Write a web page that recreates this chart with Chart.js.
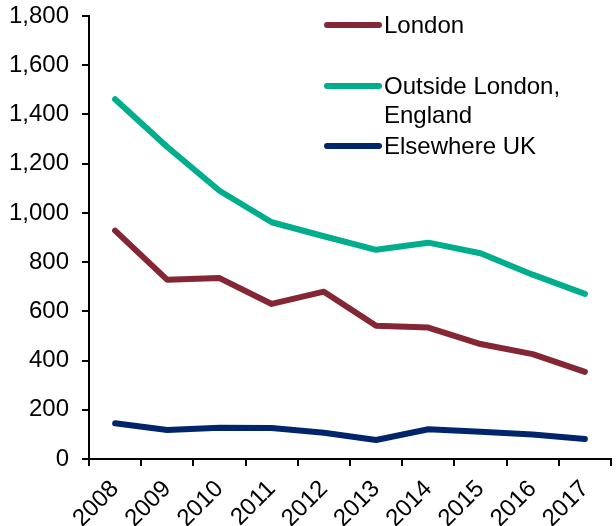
<!DOCTYPE html>
<html>
<head>
<meta charset="utf-8">
<script src="https://cdn.jsdelivr.net/npm/chart.js@4"></script>
<style>
  html, body { margin: 0; padding: 0; background: #fff; }
  #wrap { width: 616px; height: 526px; }
</style>
</head>
<body>
<div id="wrap"><canvas id="c" width="616" height="526"></canvas></div>
<script>
const years = ['2008','2009','2010','2011','2012','2013','2014','2015','2016','2017'];
const london = [928, 728, 735, 630, 680, 541, 534, 467, 426, 354];
const outsideLondon = [1462, 1268, 1090, 962, 905, 850, 879, 836, 749, 671];
const elsewhereUK = [145, 118, 127, 126, 107, 77, 121, 111, 100, 81];
const yTicks = [0, 200, 400, 600, 800, 1000, 1200, 1400, 1600, 1800];

const FONT = 'Liberation Sans, Arial, sans-serif';

// Legend drawn beside the lines, with a wrapped second label
const sideLegend = {
  id: 'sideLegend',
  afterDraw(chart) {
    const ctx = chart.ctx;
    const rows = [
      { ds: 0, y: 25, lines: ['London'] },
      { ds: 1, y: 86, lines: ['Outside London,', 'England'] },
      { ds: 2, y: 146, lines: ['Elsewhere UK'] }
    ];
    ctx.save();
    ctx.font = '24px ' + FONT;
    ctx.textBaseline = 'middle';
    ctx.textAlign = 'left';
    rows.forEach(r => {
      const ds = chart.data.datasets[r.ds];
      ctx.strokeStyle = ds.borderColor;
      ctx.lineWidth = 6;
      ctx.lineCap = 'round';
      ctx.beginPath();
      ctx.moveTo(327, r.y);
      ctx.lineTo(379, r.y);
      ctx.stroke();
      ctx.fillStyle = '#000';
      r.lines.forEach((t, i) => ctx.fillText(t, 384, r.y + 1 + i * 29));
    });
    ctx.restore();
  }
};

const lineStyle = { borderWidth: 6, pointRadius: 0, tension: 0, fill: false,
                    borderCapStyle: 'round', borderJoinStyle: 'round' };

new Chart(document.getElementById('c'), {
  type: 'line',
  data: {
    labels: years,
    datasets: [
      Object.assign({ label: 'London', data: london, borderColor: '#842634' }, lineStyle),
      Object.assign({ label: 'Outside London, England', data: outsideLondon, borderColor: '#00AD8C' }, lineStyle),
      Object.assign({ label: 'Elsewhere UK', data: elsewhereUK, borderColor: '#00256A' }, lineStyle)
    ]
  },
  options: {
    responsive: false,
    animation: false,
    layout: { padding: { top: 16, right: 5, left: 0, bottom: 0 } },
    plugins: { legend: { display: false }, tooltip: { enabled: false } },
    scales: {
      x: {
        offset: true,
        afterFit(scale) {
          scale.height = 67;
          scale.paddingLeft = 0; scale.paddingRight = 0;
        },
        grid: { offset: true, drawOnChartArea: false, drawTicks: true, tickLength: 7, color: '#000', lineWidth: 2 },
        border: { display: true, color: '#000', width: 2 },
        ticks: { color: '#000', font: { family: FONT, size: 24 }, minRotation: 45, maxRotation: 45, padding: 9 }
      },
      y: {
        min: 0, max: 1800,
        afterBuildTicks(axis) { axis.ticks = yTicks.map(v => ({ value: v })); },
        afterFit(scale) {
          scale.width = 89;
          scale.paddingTop = 0; scale.paddingBottom = 0;
        },
        grid: { drawOnChartArea: false, drawTicks: true, tickLength: 7, color: '#000', lineWidth: 2 },
        border: { display: true, color: '#000', width: 2 },
        ticks: {
          color: '#000', font: { family: FONT, size: 24 }, padding: 13,
          callback: v => v.toLocaleString('en-US')
        }
      }
    }
  },
  plugins: [sideLegend]
});
</script>
</body>
</html>
